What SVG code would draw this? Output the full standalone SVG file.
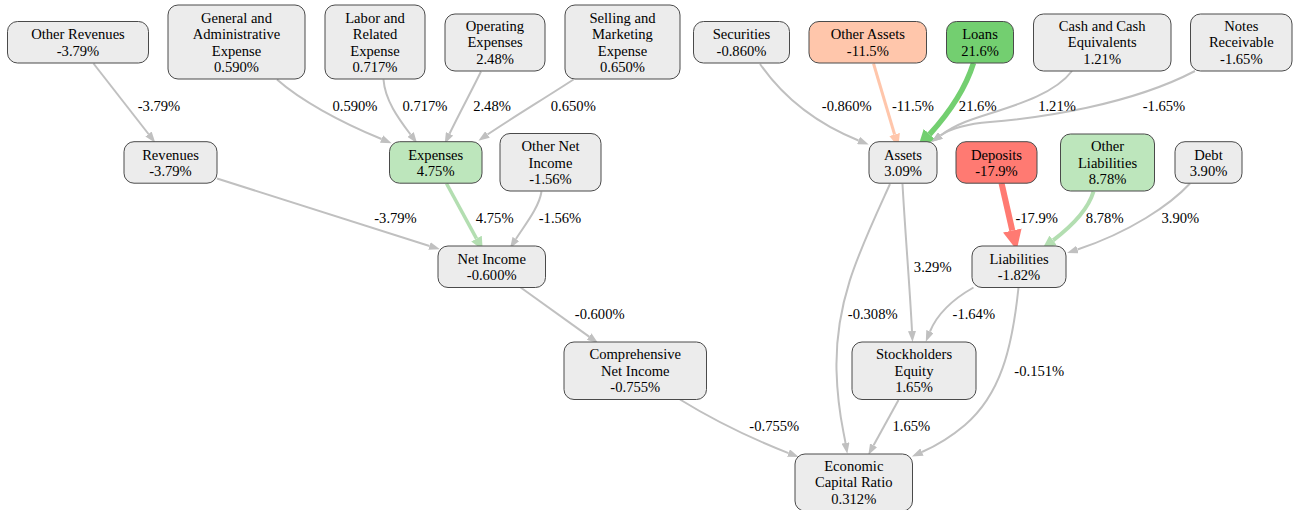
<svg xmlns="http://www.w3.org/2000/svg" width="1293" height="510" viewBox="0 0 1293 510" font-family="Liberation Serif, Times New Roman, Times, serif">
<style>
.n rect{stroke:#4a4a4a;stroke-width:1;fill:#ececec}
text{font-family:Liberation Serif,Times New Roman,Times,serif;font-size:14.6px;fill:#000;text-anchor:middle}
.e{fill:none;stroke:#c0c0c0;stroke-width:2}
</style>
<defs>
<marker id="ag" viewBox="0 0 11 8" refX="0" refY="4" markerWidth="11" markerHeight="8" markerUnits="userSpaceOnUse" orient="auto"><path d="M0,0L11,4L0,8z" fill="#c0c0c0"/></marker>
<marker id="ap" viewBox="0 0 13 11" refX="0" refY="5.5" markerWidth="13" markerHeight="11" markerUnits="userSpaceOnUse" orient="auto"><path d="M0,0L13,5.5L0,11z" fill="#ffc6ab"/></marker>
<marker id="alg" viewBox="0 0 13 12" refX="0" refY="6" markerWidth="13" markerHeight="12" markerUnits="userSpaceOnUse" orient="auto"><path d="M0,0L13,6L0,12z" fill="#b3deb1"/></marker>
<marker id="adg" viewBox="0 0 17 16" refX="0" refY="8" markerWidth="17" markerHeight="16" markerUnits="userSpaceOnUse" orient="auto"><path d="M0,0L17,8L0,16z" fill="#73cf70"/></marker>
<marker id="ar" viewBox="0 0 20 19" refX="0" refY="9.5" markerWidth="20" markerHeight="19" markerUnits="userSpaceOnUse" orient="auto"><path d="M0,0L20,9.5L0,19z" fill="#ff7a72"/></marker>
</defs>
<rect width="1293" height="510" fill="#fff"/>
<g id="connectors">
<path class="e" d="M93.5,63.5L148.5,134" marker-end="url(#ag)"/>
<path class="e" d="M277,79.5C300,100 340,122 381.5,139" marker-end="url(#ag)"/>
<path class="e" d="M383.5,79.5C385,100 398,118 410.5,134.5" marker-end="url(#ag)"/>
<path class="e" d="M481,71.5C472,90 460,112 449.5,133.8" marker-end="url(#ag)"/>
<path class="e" d="M573.5,79.5C545,98 512,118 487.5,134.5" marker-end="url(#ag)"/>
<path class="e" d="M760,64C785,100 820,125 858.5,140.5" marker-end="url(#ag)"/>
<path class="e" d="M873.5,63.5L894.6,134.5" style="stroke:#ffc6ab;stroke-width:3" marker-end="url(#ap)"/>
<path class="e" d="M973.5,63C965,90 950,112 929.6,134.3" style="stroke:#73cf70;stroke-width:5.5" marker-end="url(#adg)"/>
<path class="e" d="M1072,71C1050,100 995,110 965,122C955,126 948,130 940.5,135.5" marker-end="url(#ag)"/>
<path class="e" d="M1195,71C1130,105 1040,118 990,122C965,124 950,129 940.5,135.5" marker-end="url(#ag)"/>
<path class="e" d="M217,178.5L429.5,246" marker-end="url(#ag)"/>
<path class="e" d="M446.5,183.5L476.5,238.6" style="stroke:#b3deb1;stroke-width:3.5" marker-end="url(#alg)"/>
<path class="e" d="M541.5,191.5C539,208 524,226 515.9,239" marker-end="url(#ag)"/>
<path class="e" d="M520,287L589.1,336.6" marker-end="url(#ag)"/>
<path class="e" d="M680,399.5C710,418 750,438 788.5,453.1" marker-end="url(#ag)"/>
<path class="e" d="M890,184C860,250 835,300 836.5,370C837.5,410 843,428 845.5,443" marker-end="url(#ag)"/>
<path class="e" d="M902.5,184C905,230 910,290 912,331" marker-end="url(#ag)"/>
<path class="e" d="M1001.5,183L1012.3,230.5" style="stroke:#ff7a72;stroke-width:6" marker-end="url(#ar)"/>
<path class="e" d="M1093.5,191.5C1088,210 1072,226 1053.1,240.3" style="stroke:#b3deb1;stroke-width:4" marker-end="url(#alg)"/>
<path class="e" d="M1190,183.5C1170,205 1130,232 1077.5,249.5" marker-end="url(#ag)"/>
<path class="e" d="M973.5,287.5C955,298 938,312 930,331.5" marker-end="url(#ag)"/>
<path class="e" d="M1018.5,287.5C1012,350 1000,395 965,425C952,436 938,445 922,452" marker-end="url(#ag)"/>
<path class="e" d="M898.5,400L873.6,445.3" marker-end="url(#ag)"/>
<text x="159" y="111">-3.79%</text>
<text x="355" y="111">0.590%</text>
<text x="425" y="111">0.717%</text>
<text x="492" y="111">2.48%</text>
<text x="573.3" y="111">0.650%</text>
<text x="846.7" y="111">-0.860%</text>
<text x="913" y="111">-11.5%</text>
<text x="977.7" y="111">21.6%</text>
<text x="1057" y="111">1.21%</text>
<text x="1164" y="111">-1.65%</text>
<text x="395.5" y="223.3">-3.79%</text>
<text x="494.7" y="223.3">4.75%</text>
<text x="560" y="223.3">-1.56%</text>
<text x="1036.7" y="223.3">-17.9%</text>
<text x="1104.7" y="223.3">8.78%</text>
<text x="1180.3" y="223.3">3.90%</text>
<text x="932.7" y="271.5">3.29%</text>
<text x="599.7" y="318.8">-0.600%</text>
<text x="872.7" y="318.8">-0.308%</text>
<text x="973.8" y="318.8">-1.64%</text>
<text x="1039.3" y="375.5">-0.151%</text>
<text x="774.3" y="431">-0.755%</text>
<text x="911.3" y="431">1.65%</text>
</g>
<g id="n-other-revenues" class="n"><rect x="7.5" y="21.5" width="141" height="41.5" rx="10"/><text x="78" y="39.2">Other Revenues<tspan x="78" dy="16.4">-3.79%</tspan></text></g>
<g id="n-gae" class="n"><rect x="168" y="5" width="137" height="74" rx="10"/><text x="236.5" y="22.8">General and<tspan x="236.5" dy="16.4">Administrative</tspan><tspan x="236.5" dy="16.4">Expense</tspan><tspan x="236.5" dy="16.4">0.590%</tspan></text></g>
<g id="n-labor" class="n"><rect x="325" y="5" width="100" height="74" rx="10"/><text x="375" y="22.8">Labor and<tspan x="375" dy="16.4">Related</tspan><tspan x="375" dy="16.4">Expense</tspan><tspan x="375" dy="16.4">0.717%</tspan></text></g>
<g id="n-opex" class="n"><rect x="445" y="14" width="100" height="57" rx="10"/><text x="495" y="31">Operating<tspan x="495" dy="16.4">Expenses</tspan><tspan x="495" dy="16.4">2.48%</tspan></text></g>
<g id="n-sm" class="n"><rect x="565" y="5" width="115" height="74" rx="10"/><text x="622.5" y="22.8">Selling and<tspan x="622.5" dy="16.4">Marketing</tspan><tspan x="622.5" dy="16.4">Expense</tspan><tspan x="622.5" dy="16.4">0.650%</tspan></text></g>
<g id="n-securities" class="n"><rect x="693.5" y="21.5" width="96" height="41.5" rx="10"/><text x="741.5" y="39.2">Securities<tspan x="741.5" dy="16.4">-0.860%</tspan></text></g>
<g id="n-other-assets" class="n"><rect x="809" y="21.5" width="117.5" height="41.5" rx="10" style="fill:#ffc6ab"/><text x="867.8" y="39.2">Other Assets<tspan x="867.8" dy="16.4">-11.5%</tspan></text></g>
<g id="n-loans" class="n"><rect x="946.5" y="21.5" width="67" height="41.5" rx="10" style="fill:#73cf70"/><text x="980" y="39.2">Loans<tspan x="980" dy="16.4">21.6%</tspan></text></g>
<g id="n-cash" class="n"><rect x="1033.5" y="14" width="137.5" height="57" rx="10"/><text x="1102.2" y="31">Cash and Cash<tspan x="1102.2" dy="16.4">Equivalents</tspan><tspan x="1102.2" dy="16.4">1.21%</tspan></text></g>
<g id="n-notes" class="n"><rect x="1190.5" y="14" width="101.5" height="57" rx="10"/><text x="1241.3" y="31">Notes<tspan x="1241.3" dy="16.4">Receivable</tspan><tspan x="1241.3" dy="16.4">-1.65%</tspan></text></g>
<g id="n-revenues" class="n"><rect x="124" y="141.7" width="93" height="41.5" rx="10"/><text x="170.5" y="159.5">Revenues<tspan x="170.5" dy="16.4">-3.79%</tspan></text></g>
<g id="n-expenses" class="n"><rect x="389.5" y="141.7" width="92.5" height="41.5" rx="10" style="fill:#bde6bc"/><text x="435.7" y="159.5">Expenses<tspan x="435.7" dy="16.4">4.75%</tspan></text></g>
<g id="n-other-net-income" class="n"><rect x="500" y="133.5" width="101" height="57.5" rx="10"/><text x="550.5" y="151.3">Other Net<tspan x="550.5" dy="16.4">Income</tspan><tspan x="550.5" dy="16.4">-1.56%</tspan></text></g>
<g id="n-assets" class="n"><rect x="869" y="141.7" width="68" height="41.5" rx="10"/><text x="903" y="159.5">Assets<tspan x="903" dy="16.4">3.09%</tspan></text></g>
<g id="n-deposits" class="n"><rect x="956" y="141.7" width="81" height="41.5" rx="10" style="fill:#ff7a72"/><text x="996.5" y="159.5">Deposits<tspan x="996.5" dy="16.4">-17.9%</tspan></text></g>
<g id="n-other-liabilities" class="n"><rect x="1060.5" y="134" width="94" height="57" rx="10" style="fill:#bde6bc"/><text x="1107.5" y="151.3">Other<tspan x="1107.5" dy="16.4">Liabilities</tspan><tspan x="1107.5" dy="16.4">8.78%</tspan></text></g>
<g id="n-debt" class="n"><rect x="1175" y="141.7" width="67" height="41.5" rx="10"/><text x="1208.5" y="159.5">Debt<tspan x="1208.5" dy="16.4">3.90%</tspan></text></g>
<g id="n-net-income" class="n"><rect x="438" y="246" width="107.5" height="41.5" rx="10"/><text x="491.7" y="263.7">Net Income<tspan x="491.7" dy="16.4">-0.600%</tspan></text></g>
<g id="n-liabilities" class="n"><rect x="972" y="246" width="94" height="41.5" rx="10"/><text x="1019" y="263.7">Liabilities<tspan x="1019" dy="16.4">-1.82%</tspan></text></g>
<g id="n-comprehensive" class="n"><rect x="564" y="342" width="142.5" height="57.5" rx="10"/><text x="635.3" y="359.1">Comprehensive<tspan x="635.3" dy="16.4">Net Income</tspan><tspan x="635.3" dy="16.4">-0.755%</tspan></text></g>
<g id="n-stockholders" class="n"><rect x="852" y="342" width="124" height="57.5" rx="10"/><text x="914" y="359.1">Stockholders<tspan x="914" dy="16.4">Equity</tspan><tspan x="914" dy="16.4">1.65%</tspan></text></g>
<g id="n-ecr" class="n"><rect x="795" y="454" width="117.5" height="57" rx="10"/><text x="853.8" y="470.9">Economic<tspan x="853.8" dy="16.4">Capital Ratio</tspan><tspan x="853.8" dy="16.4">0.312%</tspan></text></g>
</svg>
